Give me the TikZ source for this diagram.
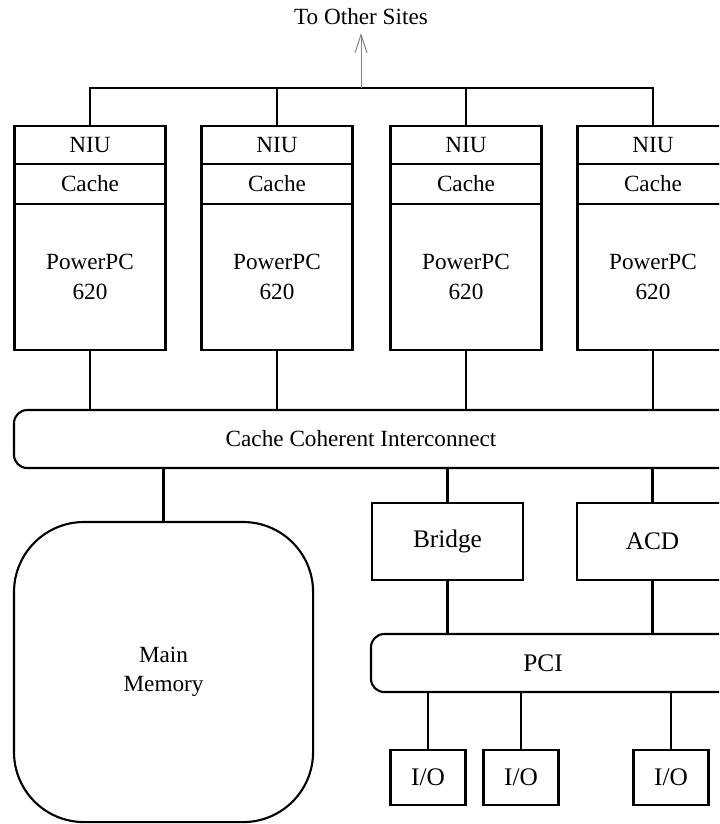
\documentclass[tikz,border=0pt]{standalone}
\usepackage{fontspec}
\setmainfont{Liberation Serif}
\usetikzlibrary{shapes,calc,arrows.meta}

\tikzset{
  unit/.style={draw,rectangle,line width=1.5pt,inner sep=0pt,outer sep=0pt,minimum width=3.775cm,
    font=\fontsize{16.5}{21}\selectfont,align=center},
  bus/.style={draw,rectangle,rounded corners=0.33cm,line width=1.5pt,inner sep=0pt,outer sep=0pt,
    minimum height=1.45cm},
  wire/.style={line width=1.5pt},
  lbl/.style={font=\fontsize{16.5}{21}\selectfont},
  biglbl/.style={font=\fontsize{18}{22}\selectfont}
}

\begin{document}
\begin{tikzpicture}[x=0.025cm,y=-0.025cm]
  \useasboundingbox (0,0) rectangle (719,824);
  \clip (0,0) rectangle (719,824);
  \node[lbl] (Out) at (361,17) {To Other Sites};
  % processor sites
  \foreach \i/\x in {1/90,2/277,3/466,4/653} {
    \node[unit,minimum height=0.95cm,anchor=north] (N\i) at (\x,126) {NIU};
    \node[unit,minimum height=1cm,anchor=north] (C\i) at (N\i.south) {Cache};
    \node[unit,minimum height=3.65cm,anchor=north] (P\i) at (C\i.south) {PowerPC\\620};
  }
  \coordinate (T0) at (361,88);
  \draw[wire] (N1.north) -- (N1.north |- T0) -- (N4.north |- T0) -- (N4.north);
  \draw[wire] (N2.north) -- (N2.north |- T0);
  \draw[wire] (N3.north) -- (N3.north |- T0);
  \draw[-{Straight Barb[length=13pt,width=8.5pt]},gray,line width=0.7pt] (T0) -- ($(T0)+(0,-55)$);
  % interconnect
  \node[bus,minimum width=18.15cm,anchor=north west] (CCI) at (14,410) {};
  \node[lbl] (CCIt) at (361,439) {Cache Coherent Interconnect};
  \foreach \i in {1,...,4}
    \draw[wire] (P\i.south) -- (P\i.south |- CCI.north);
  % memory and bridges
  \node[draw,rectangle,rounded corners=1.75cm,line width=1.5pt,inner sep=0pt,outer sep=0pt,
    minimum width=7.475cm,minimum height=7.5cm,anchor=north west,align=center,
    font=\fontsize{16.5}{21}\selectfont] (MM) at (14,522) {Main\\Memory};
  \node[unit,biglbl,minimum height=1.925cm,anchor=north west] (Br) at (372,503) {Bridge};
  \node[unit,biglbl,minimum height=1.925cm,anchor=north west] (ACD) at (577,503) {ACD};
  \draw[wire] (MM.north) -- (MM.north |- CCI.south);
  \draw[wire] (Br.north) -- (Br.north |- CCI.south);
  \draw[wire] (ACD.north) -- (ACD.north |- CCI.south);
  % pci bus
  \node[bus,minimum width=9.225cm,anchor=north west] (PCI) at (371,634) {};
  \node[biglbl] (PCIt) at (543,663) {PCI};
  \draw[wire] (Br.south) -- (Br.south |- PCI.north);
  \draw[wire] (ACD.south) -- (ACD.south |- PCI.north);
  \foreach \i/\x in {1/428,2/521,3/671} {
    \node[unit,biglbl,minimum width=1.875cm,minimum height=1.375cm,anchor=north] (IO\i) at (\x,750) {I/O};
    \draw[wire] (IO\i.north) -- (IO\i.north |- PCI.south);
  }
\end{tikzpicture}
\end{document}
